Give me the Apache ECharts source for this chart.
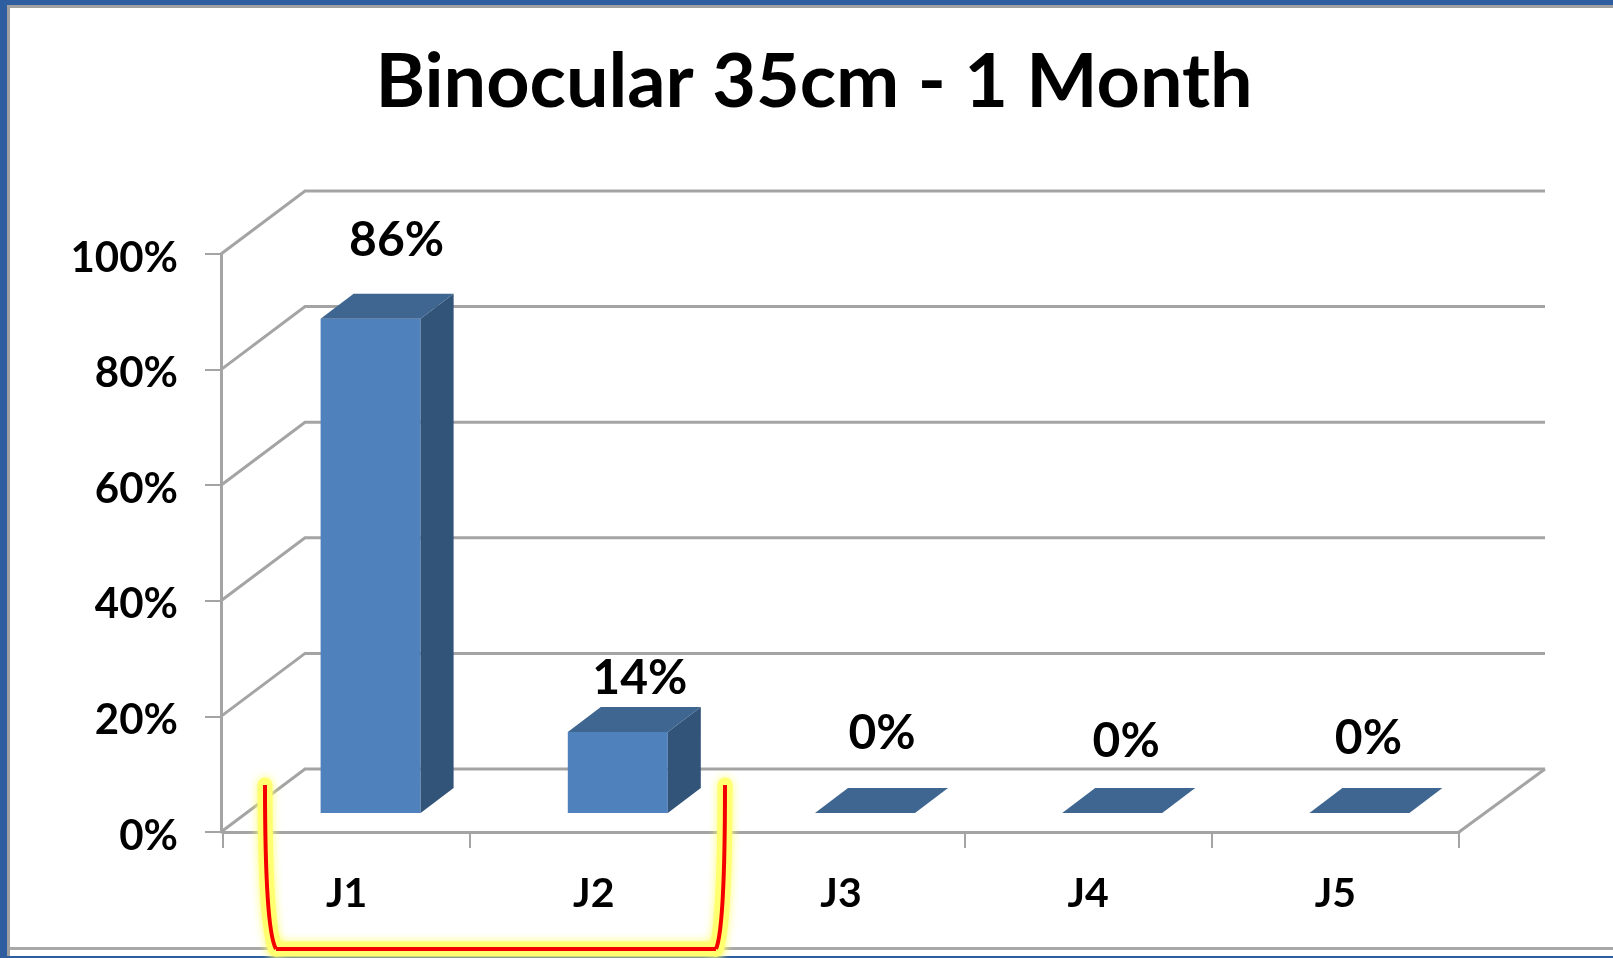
<!DOCTYPE html>
<html lang="en">

<head>
    <meta charset="UTF-8">
    <style>
    html,
    body {
        height: 100%;
        margin: 0;
        background: #fff;
    }
    /* the reference is a soft, upscaled screenshot */
    #chart {
        filter: blur(0.5px);
    }
  </style>
</head>

<body>
<div id="chart" style="width:1613px;height:958px;"></div>
<script src="https://cdn.jsdelivr.net/npm/echarts@6/dist/echarts.min.js"></script>
<script>
    var categories = ['J1', 'J2', 'J3', 'J4', 'J5'];
    var percents = [85.5, 14, 0, 0, 0];
    var yTicks = [0, 20, 40, 60, 80, 100];

    // nudges for the value labels, the original has them placed by hand
    var labelNudgeX = [26, 22, 17, 14, 9];
    var labelNudgeY = [-53, -29, -54, -46, -49];

    var FONT = 'Lato, "Open Sans", sans-serif';
    var LINE = '#a4a4a4';

    var wallDx = 82, wallDy = -63;   // depth of the fake 3d walls
    var wallEndDx = 86;              // far right corner leans a bit more
    var barDx = 33, barDy = -25;     // depth of the bars
    var barW = 100;
    var barShiftX = 24, barShiftY = -19;

    function wallItem(params, api) {
        var g = params.coordSys;
        var p = api.coord([0, api.value(1)]);
        var y = p[1];
        var x0 = g.x, x1 = g.x + g.width;
        var children = [{
            type: 'polyline',
            shape: { points: [[x0 - 2, y], [x0 + wallDx, y + wallDy], [x1 + wallEndDx, y + wallDy]] },
            style: { fill: null, stroke: LINE, lineWidth: 3 }
        }];
        if (api.value(1) === 0) {
            children.push({
                type: 'line',
                shape: { x1: x1, y1: y, x2: x1 + wallEndDx, y2: y + wallDy },
                style: { stroke: LINE, lineWidth: 3 }
            });
        }
        return { type: 'group', children: children };
    }

    function barItem(params, api) {
        var i = api.value(0);
        var top = api.coord([i, api.value(1)]);
        var base = api.coord([i, 0]);
        var l = top[0] + barShiftX - barW / 2, r = l + barW;
        var yt = top[1] + barShiftY, yb = base[1] + barShiftY;
        return {
            type: 'group',
            children: [
                {
                    type: 'rect',
                    shape: { x: l, y: yt, width: barW, height: yb - yt },
                    style: { fill: '#4f81bd' }
                },
                {
                    type: 'polygon',
                    shape: { points: [[r, yt], [r + barDx, yt + barDy], [r + barDx, yb + barDy], [r, yb]] },
                    style: { fill: '#325479' }
                },
                {
                    type: 'polygon',
                    shape: { points: [[l, yt], [l + barDx, yt + barDy], [r + barDx, yt + barDy], [r, yt]] },
                    style: { fill: '#3e6690' }
                },
                {
                    type: 'text',
                    style: {
                        text: Math.round(api.value(1)) + '%',
                        x: top[0] + barShiftX + labelNudgeX[i],
                        y: yt + barDy + labelNudgeY[i],
                        align: 'center',
                        verticalAlign: 'middle',
                        fill: '#000',
                        font: 'bold 48px ' + FONT
                    }
                }
            ]
        };
    }

    // hand drawn bracket under J1 and J2
    function bracket(color, width, z, blur, cap) {
        var style = { fill: null, stroke: color, lineWidth: width, shadowColor: color, shadowBlur: blur, lineCap: cap };
        return [
            { type: 'bezierCurve', z: z, shape: { x1: 265, y1: 785, cpx1: 265, cpy1: 870, cpx2: 268, cpy2: 935, x2: 276, y2: 949 }, style: style },
            { type: 'line', z: z, shape: { x1: 276, y1: 949, x2: 716, y2: 949 }, style: style },
            { type: 'bezierCurve', z: z, shape: { x1: 716, y1: 949, cpx1: 722, cpy1: 935, cpx2: 725, cpy2: 870, x2: 725, y2: 785 }, style: style }
        ];
    }

    var frame = [
        { type: 'rect', shape: { x: 0, y: 0, width: 1613, height: 5 }, style: { fill: '#2e5e9f' }, z: 10 },
        { type: 'rect', shape: { x: 0, y: 0, width: 7, height: 958 }, style: { fill: '#2e5e9f' }, z: 10 },
        { type: 'rect', shape: { x: 7, y: 5, width: 1606, height: 3 }, style: { fill: '#a0a0a0' }, z: 10 },
        { type: 'rect', shape: { x: 7, y: 5, width: 3, height: 953 }, style: { fill: '#a0a0a0' }, z: 10 },
        { type: 'rect', shape: { x: 10, y: 947, width: 1603, height: 3 }, style: { fill: '#a8a8a8' }, z: 10 },
        { type: 'rect', shape: { x: 0, y: 956, width: 1613, height: 2 }, style: { fill: '#2e5e9f' }, z: 10 }
    ];

    var myChart = echarts.init(document.getElementById('chart'));
    myChart.setOption({
        animation: false,
        backgroundColor: '#fff',
        title: {
            text: 'Binocular 35cm - 1 Month',
            left: 809,
            top: 78,
            textAlign: 'center',
            textVerticalAlign: 'middle',
            textStyle: { fontFamily: FONT, fontWeight: 'bold', fontSize: 75.5, color: '#000' }
        },
        grid: { left: 223, top: 254, width: 1236, height: 578 },
        xAxis: {
            type: 'category',
            data: categories,
            axisLine: { lineStyle: { color: LINE, width: 3 } },
            axisTick: { show: true, length: 16, lineStyle: { color: LINE, width: 2 } },
            axisLabel: { margin: 41, color: '#000', fontFamily: FONT, fontWeight: 'bold', fontSize: 41 }
        },
        yAxis: {
            type: 'value',
            min: 0,
            max: 100,
            interval: 20,
            offset: 2,
            axisLine: { show: true, lineStyle: { color: LINE, width: 3 } },
            axisTick: { show: true, length: 16, lineStyle: { color: LINE, width: 2 } },
            splitLine: { show: false },
            axisLabel: {
                margin: 43,
                formatter: '{v|{value}%}',
                rich: {
                    v: { padding: [8, 0, 0, 0], color: '#000', fontFamily: FONT, fontWeight: 'bold', fontSize: 42 }
                }
            }
        },
        series: [
            {
                type: 'custom',
                silent: true,
                clip: false,
                z: 1,
                renderItem: wallItem,
                data: yTicks.map(function (v) { return [0, v]; })
            },
            {
                type: 'custom',
                silent: true,
                clip: false,
                z: 3,
                renderItem: barItem,
                data: percents.map(function (v, i) { return [i, v]; })
            }
        ],
        graphic: frame.concat(bracket('#ffff70', 15, 11, 8, 'round'), bracket('#f50000', 4, 12, 0, 'butt'))
    });
</script>
</body>
</html>
